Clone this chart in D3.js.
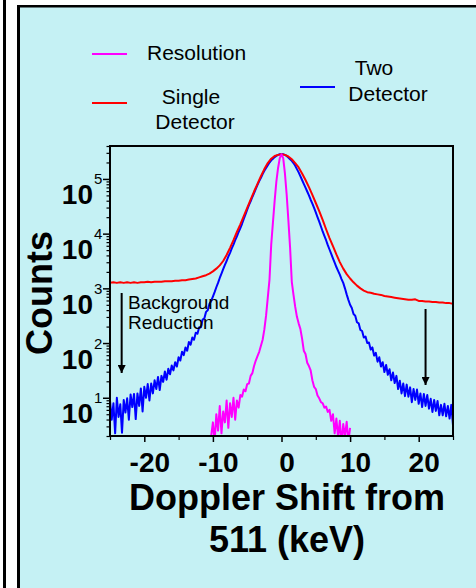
<!DOCTYPE html>
<html lang="en">
<head>
<meta charset="UTF-8" />
<title>Doppler Shift Spectra</title>
<script src="https://d3js.org/d3.v7.min.js"></script>
<style>
  body { margin: 0; background: #fff; overflow: hidden; }
  svg { display: block; font-family: "Liberation Sans", Arial, sans-serif; }
</style>
</head>
<body>
<svg id="chart" width="476" height="588"></svg>
<script>
// values are log10(counts), one per energy bin (keV)
const resolutionLog = [
  0.30, 0.55, 0.20, 0.70, 0.40, 0.85, 0.35, 0.75, 0.55, 0.95,
  0.45, 0.90, 0.65, 1.00, 0.60, 0.95, 0.82, 1.05, 1.02, 1.15,
  1.12, 1.25, 1.26, 1.40, 1.45, 1.58, 1.68, 1.76, 1.84, 1.95,
  2.06, 2.25, 2.50, 2.83, 3.16, 3.80, 4.20, 4.60, 4.95, 5.20,
  5.38, 5.45, 5.38, 5.10, 4.72, 4.25, 3.75, 3.12, 2.88, 2.66,
  2.48, 2.36, 2.26, 2.08, 1.86, 1.80, 1.64, 1.58, 1.50, 1.32,
  1.20, 1.16, 1.04, 0.99, 0.92, 0.90, 0.82, 0.84, 0.74, 0.78,
  0.58, 0.70, 0.35, 0.62, 0.28, 0.58, 0.15, 0.52, 0.30, 0.56,
  0.20, 0.45
];
const singleLog = [
  3.10, 3.11, 3.10, 3.11, 3.10, 3.11, 3.10, 3.11, 3.10, 3.11,
  3.11, 3.12, 3.11, 3.12, 3.12, 3.12, 3.13, 3.13, 3.13, 3.14,
  3.14, 3.15, 3.15, 3.16, 3.17, 3.18, 3.20, 3.22, 3.24, 3.27,
  3.31, 3.36, 3.42, 3.50, 3.61, 3.74, 3.88, 4.03, 4.17, 4.32,
  4.47, 4.62, 4.77, 4.91, 5.05, 5.18, 5.29, 5.37, 5.42, 5.44,
  5.45, 5.44, 5.41, 5.36, 5.29, 5.21, 5.10, 4.98, 4.85, 4.71,
  4.56, 4.41, 4.25, 4.08, 3.92, 3.77, 3.62, 3.48, 3.36, 3.26,
  3.18, 3.11, 3.05, 3.00, 2.96, 2.93, 2.92, 2.90, 2.89, 2.88,
  2.86, 2.85, 2.84, 2.83, 2.82, 2.81, 2.80, 2.79, 2.79, 2.80,
  2.77, 2.77, 2.76, 2.76, 2.75, 2.75, 2.74, 2.74, 2.73, 2.73,
  2.72
];
const twoDetLog = [
  // -25 .. -10
  0.95, 0.60, 0.90, 0.35, 1.00, 0.65, 0.88, 0.36, 0.96, 0.73,
  0.99, 0.60, 1.06, 0.83, 1.07, 0.61, 1.08, 0.85, 1.17, 0.75,
  1.20, 1.00, 1.25, 0.95, 1.26, 1.08, 1.32, 1.16, 1.38, 1.14,
  1.40, 1.29, 1.48, 1.33, 1.53, 1.43, 1.59, 1.50, 1.65, 1.57,
  1.74, 1.68, 1.84, 1.78, 1.92, 1.86, 2.02, 1.97, 2.10, 2.06,
  2.19, 2.17, 2.29, 2.29, 2.43, 2.45, 2.57, 2.60, 2.72, 2.77,
  2.85,
  // -9.75 .. 9.75
  2.93, 3.02, 3.10, 3.19, 3.27, 3.35, 3.43, 3.50, 3.58, 3.65,
  3.73, 3.80, 3.88, 3.95, 4.03, 4.10, 4.18, 4.27, 4.35, 4.44,
  4.52, 4.59, 4.67, 4.74, 4.82, 4.89, 4.96, 5.02, 5.09, 5.15,
  5.20, 5.25, 5.30, 5.34, 5.37, 5.40, 5.42, 5.44, 5.45, 5.45,
  5.45, 5.44, 5.42, 5.39, 5.36, 5.33, 5.29, 5.24, 5.18, 5.12,
  5.05, 4.98, 4.91, 4.84, 4.77, 4.70, 4.62, 4.55, 4.47, 4.39,
  4.30, 4.22, 4.13, 4.04, 3.96, 3.88, 3.79, 3.71, 3.63, 3.55,
  3.47, 3.39, 3.32, 3.25, 3.17, 3.10, 3.00, 2.89, 2.79,
  // 10 .. 25
  2.70, 2.64, 2.53, 2.50, 2.38, 2.36, 2.24, 2.22, 2.10, 2.12,
  2.00, 2.01, 1.88, 1.92, 1.77, 1.82, 1.66, 1.74, 1.57, 1.65,
  1.47, 1.60, 1.42, 1.52, 1.32, 1.46, 1.27, 1.40, 1.16, 1.31,
  1.08, 1.26, 1.03, 1.24, 1.02, 1.19, 0.92, 1.16, 0.96, 1.15,
  0.89, 1.08, 0.83, 1.07, 0.85, 1.05, 0.80, 0.98, 0.74, 0.96,
  0.76, 0.94, 0.68, 0.87, 0.68, 0.89, 0.66, 0.85, 0.62, 0.87,
  0.50
];

// energy bins (keV) of each spectrum
const resolutionBins = d3.range(resolutionLog.length).map(i => -10.25 + i * 0.25);
const singleBins = d3.range(singleLog.length).map(i => -25 + i * 0.5);
const twoDetBins = d3.range(twoDetLog.length).map(i => -25 + i * 0.25);

const xTicks = [-20, -10, 0, 10, 20];
const xMinorTicks = [-25, -15, -5, 5, 15, 25];
const yTicks = [1e1, 1e2, 1e3, 1e4, 1e5];

const svg = d3.select("#chart");

// slide frame
svg.append("rect").attr("x", 3).attr("y", 0).attr("width", 3).attr("height", 588).attr("fill", "#000");
svg.append("rect").attr("x", 17).attr("y", 5).attr("width", 459).attr("height", 583).attr("fill", "#000");
svg.append("rect").attr("x", 20).attr("y", 7.5).attr("width", 456).attr("height", 581).attr("fill", "#C5F1F4");

const x = d3.scaleLinear().domain([-25, 25]).range([110, 453]);
const y = d3.scaleLog().domain([2, 4e5]).range([436, 146]);

svg.append("clipPath").attr("id", "plotClip")
  .append("rect").attr("x", 110).attr("y", 146).attr("width", 343).attr("height", 290);

const line = d3.line().x(d => x(d[0])).y(d => y(d[1]));

const series = [
  { bins: twoDetBins, logs: twoDetLog, color: "#0000FF" },
  { bins: singleBins, logs: singleLog, color: "#FF0000" },
  { bins: resolutionBins, logs: resolutionLog, color: "#FF00FF" }
];

const curves = svg.append("g").attr("clip-path", "url(#plotClip)");
series.forEach(s => {
  const pts = s.bins.map((b, i) => [b, Math.pow(10, s.logs[i])]);
  curves.append("path")
    .attr("d", line(pts))
    .attr("fill", "none")
    .attr("stroke", s.color)
    .attr("stroke-width", 2)
    .attr("stroke-linejoin", "round");
});

// y axis: minor + major ticks
const yMinor = [];
for (let e = 0; e <= 5; e++) for (let k = 2; k <= 9; k++) {
  const v = k * Math.pow(10, e);
  if (v >= 2 && v <= 4e5) yMinor.push(v);
}
svg.append("g").attr("transform", "translate(110,0)")
  .call(d3.axisLeft(y).tickValues(yMinor).tickSize(3.5).tickFormat(""))
  .call(g => g.select(".domain").remove())
  .selectAll("line").attr("stroke-width", 1.2);

const yAxis = svg.append("g").attr("transform", "translate(110,0)")
  .call(d3.axisLeft(y).tickValues(yTicks).tickSize(7).tickFormat(""))
  .call(g => g.select(".domain").remove());
yAxis.selectAll("line").attr("stroke-width", 1.5);
yAxis.selectAll(".tick").each(function (d) {
  const t = d3.select(this);
  t.append("text").attr("x", -17).attr("y", 25).attr("text-anchor", "end")
    .attr("fill", "#000").attr("font-size", 28).attr("font-weight", "bold")
    .attr("font-family", "Liberation Sans, Arial, sans-serif").text("10");
  t.append("text").attr("x", -16).attr("y", 5).attr("text-anchor", "start")
    .attr("fill", "#000").attr("font-size", 15)
    .attr("font-family", "Liberation Sans, Arial, sans-serif").text(Math.round(Math.log10(d)));
});

// x axis
svg.append("g").attr("transform", "translate(0,436)")
  .call(d3.axisBottom(x).tickValues(xMinorTicks).tickSize(4).tickFormat(""))
  .call(g => g.select(".domain").remove())
  .selectAll("line").attr("stroke-width", 1.2);

const xAxis = svg.append("g").attr("transform", "translate(0,436)")
  .call(d3.axisBottom(x).tickValues(xTicks).tickSize(6).tickFormat(d => String(d)))
  .call(g => g.select(".domain").remove());
xAxis.selectAll("line").attr("stroke-width", 1.5);
xAxis.selectAll("text")
  .attr("font-size", 28).attr("font-weight", "bold").attr("fill", "#000")
  .attr("font-family", "Liberation Sans, Arial, sans-serif")
  .attr("dx", 5).attr("dy", 0).attr("y", 36);

// plot frame
svg.append("rect").attr("x", 110).attr("y", 146).attr("width", 343).attr("height", 290)
  .attr("fill", "none").attr("stroke", "#000").attr("stroke-width", 2);

// axis titles
svg.append("text").attr("transform", "translate(52,293) rotate(-90)")
  .attr("text-anchor", "middle").attr("font-size", 36).attr("font-weight", "bold")
  .text("Counts");
svg.append("text").attr("x", 287).attr("y", 510).attr("text-anchor", "middle")
  .attr("font-size", 36).attr("font-weight", "bold").text("Doppler Shift from");
svg.append("text").attr("x", 287).attr("y", 552).attr("text-anchor", "middle")
  .attr("font-size", 36).attr("font-weight", "bold").text("511 (keV)");

// legend
const legend = svg.append("g").attr("font-size", 21);
legend.append("line").attr("x1", 92).attr("x2", 127).attr("y1", 54).attr("y2", 54)
  .attr("stroke", "#FF00FF").attr("stroke-width", 2);
legend.append("text").attr("x", 147).attr("y", 60).text("Resolution");
legend.append("line").attr("x1", 92).attr("x2", 127).attr("y1", 103).attr("y2", 103)
  .attr("stroke", "#FF0000").attr("stroke-width", 2);
legend.append("text").attr("x", 191).attr("y", 104).attr("text-anchor", "middle").text("Single");
legend.append("text").attr("x", 195).attr("y", 129).attr("text-anchor", "middle").text("Detector");
legend.append("line").attr("x1", 300).attr("x2", 335).attr("y1", 87).attr("y2", 87)
  .attr("stroke", "#0000FF").attr("stroke-width", 2);
legend.append("text").attr("x", 374).attr("y", 75).attr("text-anchor", "middle").text("Two");
legend.append("text").attr("x", 388).attr("y", 101).attr("text-anchor", "middle").text("Detector");

// background reduction annotation
svg.append("defs").append("marker").attr("id", "arrow")
  .attr("viewBox", "0 0 10 10").attr("refX", 10).attr("refY", 5)
  .attr("markerWidth", 4).attr("markerHeight", 4).attr("markerUnits", "strokeWidth")
  .attr("orient", "auto")
  .append("path").attr("d", "M0,0 L10,5 L0,10 Z").attr("fill", "#000");

const arrows = [[-23.3, 293, 373], [21.0, 309, 385]];
arrows.forEach(([e, y1, y2]) => {
  svg.append("line").attr("x1", x(e)).attr("x2", x(e)).attr("y1", y1).attr("y2", y2)
    .attr("stroke", "#000").attr("stroke-width", 2).attr("marker-end", "url(#arrow)");
});
svg.append("text").attr("x", 128).attr("y", 309).attr("font-size", 19).text("Background");
svg.append("text").attr("x", 128).attr("y", 329).attr("font-size", 19).text("Reduction");
</script>
</body>
</html>
